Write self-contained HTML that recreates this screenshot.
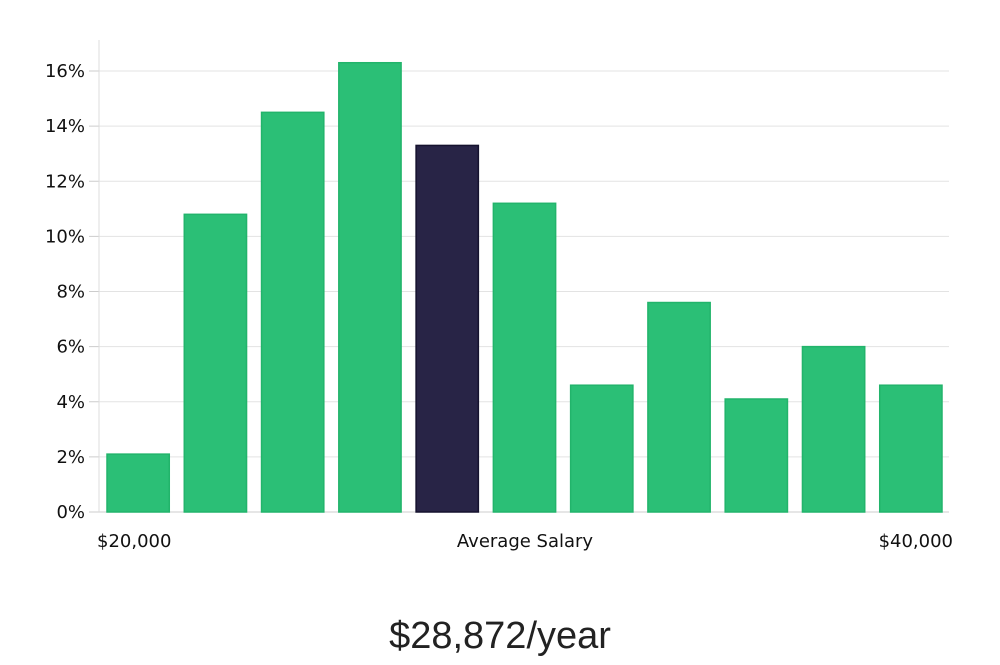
<!DOCTYPE html>
<html><head><meta charset="utf-8"><style>
body{margin:0;background:#fff;width:1000px;height:660px;overflow:hidden}
svg text{font-family:"DejaVu Sans","Liberation Sans",sans-serif}
</style></head><body>
<svg id="chart" width="1000" height="660" xmlns="http://www.w3.org/2000/svg"></svg>
<script>
const categories=["b1","b2","b3","b4","b5","b6","b7","b8","b9","b10","b11"];
const values=[2.1,10.8,14.5,16.3,13.3,11.2,4.6,7.6,4.1,6.0,4.6];
const highlightIndex=4;
const yTicks=[0,2,4,6,8,10,12,14,16];
const xLabels=["$20,000","Average Salary","$40,000"];
const title="$28,872/year";

const NS="http://www.w3.org/2000/svg";
const svg=document.getElementById('chart');
const L=99,R=949,B=512,T=40;
const y=v=>B-v*(441/16);
const band=(R-L)/categories.length;
const x=i=>L+i*band;
function mk(t,a){const e=document.createElementNS(NS,t);for(const k in a)e.setAttribute(k,a[k]);svg.appendChild(e);return e;}
yTicks.forEach(t=>{
  const g=mk('line',{x1:L,x2:t===0?R:R,y1:y(t),y2:y(t),stroke:t===0?'#ccc':'#e3e3e3','stroke-width':1});
  
  
  const tk=mk('line',{x1:89,x2:L,y1:y(t),y2:y(t),stroke:'#ccc','stroke-width':1});
  
  
  const tx=mk('text',{x:85,y:y(t)+6,'text-anchor':'end','font-size':18,fill:'#111'});
  tx.textContent=t+'%';
  
  
});
const ax=mk('line',{x1:L,x2:L,y1:T,y2:B,stroke:'#ddd','stroke-width':1});


values.forEach((v,i)=>{
  const hi=i===highlightIndex;
  const r=mk('rect',{x:x(i)+8,y:y(v),width:band-15,height:B-y(v),fill:hi?'#282446':'#2bbf76',stroke:hi?'#15122e':'#22b46b','stroke-width':1.5});
  
  
});
[[97,'start'],[525,'middle'],[953,'end']].forEach((p,i)=>{
  const t=mk('text',{x:p[0],y:547,'text-anchor':p[1],'font-size':18,fill:'#111'});
  t.textContent=xLabels[i];
  
  
});
const tt=mk('text',{x:500,y:648,'text-anchor':'middle','font-size':38,fill:'#222'});
tt.setAttribute('style','font-family:"Liberation Sans Narrow","Liberation Sans",sans-serif;font-weight:300');
tt.textContent=title;


</script>
</body></html>
